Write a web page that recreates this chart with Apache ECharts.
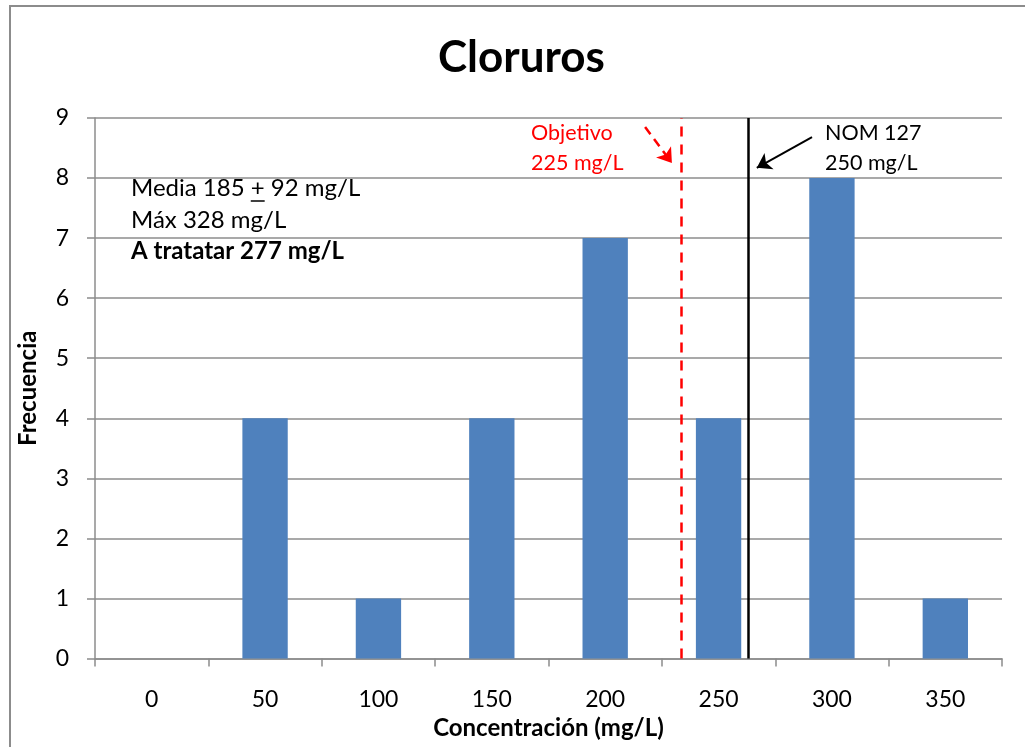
<!DOCTYPE html>
<html>
<head>
<meta charset="utf-8">
<script src="https://cdn.jsdelivr.net/npm/echarts@6/dist/echarts.min.js"></script>
<style>
  html, body { margin: 0; padding: 0; background: #ffffff; }
  #chart { width: 1025px; height: 747px; }
</style>
</head>
<body>
<div id="chart"></div>
<script>
// Histogram of chloride concentrations
const categories = ['0', '50', '100', '150', '200', '250', '300', '350'];
const frequency = [0, 4, 1, 4, 7, 4, 8, 1];
const yTicks = [0, 1, 2, 3, 4, 5, 6, 7, 8, 9];

// Reference limits (mg/L)
const objetivo = 225;
const nom127 = 250;

// Summary statistics shown in the text box ("+" is underlined, i.e. ±)
const mediaPrefix = 'Media 185 ';
const mediaSign = '+';
const mediaSuffix = ' 92 mg/L';
const maxLine = 'Máx 328 mg/L';
const treatLine = 'A tratatar 277 mg/L';

const FONT = 'Lato';
const gridColor = '#8c8c8c';

// width of a piece of text in the given font, used to underline the "+" sign
function textWidth(str, font) {
  const ctx = document.createElement('canvas').getContext('2d');
  ctx.font = font;
  return ctx.measureText(str).width;
}

const statsFontSize = 24;
const statsLeft = 131;
const statsTop = 173;
const statsLineHeight = 31.5;
const statsFont = statsFontSize + 'px ' + FONT;
const signX = statsLeft + textWidth(mediaPrefix, statsFont);
const signW = textWidth(mediaSign, statsFont);

const chart = echarts.init(document.getElementById('chart'), null, { renderer: 'canvas' });

chart.setOption({
  backgroundColor: '#ffffff',
  animation: false,
  title: {
    text: 'Cloruros',
    left: 433,
    top: 31,
    textStyle: { fontFamily: FONT, fontSize: 44, fontWeight: 'bold', color: '#000' }
  },
  grid: { left: 95, right: 23, top: 118, bottom: 88.5, containLabel: false },
  xAxis: [
    {
      type: 'category',
      data: categories,
      boundaryGap: true,
      name: 'Concentración (mg/L)',
      nameLocation: 'middle',
      nameGap: 57,
      nameTextStyle: { fontFamily: FONT, fontSize: 24, fontWeight: 'bold', color: '#000' },
      axisLine: { lineStyle: { color: gridColor, width: 1.5 } },
      axisTick: { show: true, length: 8, alignWithLabel: false, lineStyle: { color: gridColor, width: 1.5 } },
      axisLabel: { fontFamily: FONT, fontSize: 23, color: '#000', margin: 30 }
    },
    {
      // helper scale for the reference limits (mg/L)
      type: 'value',
      min: 6.2,
      max: 344.7,
      show: false
    }
  ],
  yAxis: {
    type: 'value',
    min: 0,
    max: yTicks[yTicks.length - 1],
    interval: 1,
    name: 'Frecuencia',
    nameLocation: 'middle',
    nameGap: 55,
    nameTextStyle: { fontFamily: FONT, fontSize: 24, fontWeight: 'bold', color: '#000' },
    axisLine: { show: true, lineStyle: { color: gridColor, width: 1.5 } },
    axisTick: { show: true, length: 8, lineStyle: { color: gridColor, width: 1.5 } },
    axisLabel: { fontFamily: FONT, fontSize: 23, color: '#000', margin: 26 },
    splitLine: { lineStyle: { color: gridColor, width: 1.5 } }
  },
  series: [
    {
      type: 'bar',
      data: frequency,
      barWidth: '40%',
      itemStyle: { color: '#4f81bd' }
    },
    {
      type: 'scatter',
      xAxisIndex: 1,
      yAxisIndex: 0,
      data: [],
      silent: true,
      markLine: {
        silent: true,
        symbol: ['none', 'none'],
        label: { show: false },
        data: [
          [
            { coord: [objetivo, 0], lineStyle: { color: '#ff0000', width: 2.5, type: [10, 8] } },
            { coord: [objetivo, 9] }
          ],
          [
            { coord: [nom127, 0], lineStyle: { color: '#000000', width: 2.5, type: 'solid' } },
            { coord: [nom127, 9] }
          ],
          [
            { coord: [211.5, 8.85], symbol: 'none', lineStyle: { color: '#ff0000', width: 2.5, type: [9, 6] } },
            { coord: [221.5, 8.25], symbol: 'arrow', symbolSize: 14 }
          ],
          [
            { coord: [273.8, 8.68], symbol: 'none', lineStyle: { color: '#000000', width: 2, type: 'solid' } },
            { coord: [253.2, 8.17], symbol: 'arrow', symbolSize: 14 }
          ]
        ]
      }
    }
  ],
  graphic: [
    {
      type: 'rect',
      silent: true,
      shape: { x: 10, y: 6, width: 1100, height: 900 },
      style: { fill: 'none', stroke: '#8c8c8c', lineWidth: 2 }
    },
    {
      type: 'text',
      left: statsLeft,
      top: statsTop,
      style: {
        text: mediaPrefix + mediaSign + mediaSuffix + '\n' + maxLine + '\n{b|' + treatLine + '}',
        fontFamily: FONT,
        fontSize: statsFontSize,
        lineHeight: statsLineHeight,
        fill: '#000',
        rich: { b: { fontFamily: FONT, fontSize: statsFontSize, fontWeight: 'bold', lineHeight: statsLineHeight, fill: '#000' } }
      }
    },
    {
      // underline of the "+" sign
      type: 'line',
      silent: true,
      shape: { x1: signX, y1: statsTop + 28, x2: signX + signW, y2: statsTop + 28 },
      style: { stroke: '#000', lineWidth: 1.5 }
    },
    {
      type: 'text',
      left: 531,
      top: 118,
      style: {
        text: 'Objetivo\n' + objetivo + ' mg/L',
        fontFamily: FONT,
        fontSize: 21.5,
        lineHeight: 30,
        fill: '#ff0000'
      }
    },
    {
      type: 'text',
      left: 825,
      top: 118,
      style: {
        text: 'NOM 127\n' + nom127 + ' mg/L',
        fontFamily: FONT,
        fontSize: 21.5,
        lineHeight: 30,
        fill: '#000'
      }
    }
  ]
});
</script>
</body>
</html>
